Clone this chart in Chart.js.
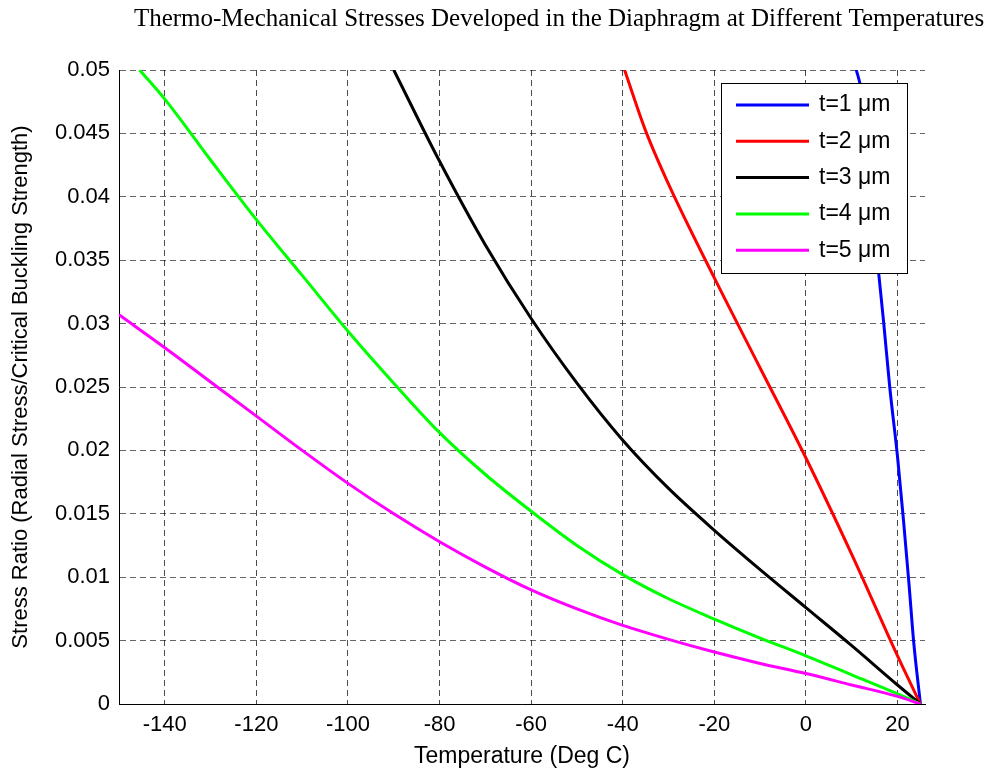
<!DOCTYPE html>
<html>
<head>
<meta charset="utf-8">
<script src="https://cdn.jsdelivr.net/npm/chart.js@4.4.1/dist/chart.umd.min.js"></script>
<style>
  body { margin: 0; background: #fff; }
</style>
</head>
<body>
<canvas id="chart-1" width="992" height="772"></canvas>
<script>
// temperatures (deg C) and stress ratio
var t1_temp = [11, 12, 14, 15.6, 17, 18.3, 20, 21.3, 22.5, 23.5, 25];
var t1_ratio = [0.05, 0.0485, 0.0412, 0.035, 0.030, 0.025, 0.0195, 0.0145, 0.0095, 0.005, 0];

var t2_temp = [-39.6, -35, -30, -20, -10, 0, 10, 20, 25];
var t2_ratio = [0.05, 0.0452, 0.0410, 0.0336, 0.0265, 0.0194, 0.0118, 0.0038, 0];

var t3_temp = [-90, -80, -70, -60, -50, -40, -30, -20, -10, 0, 10, 20, 25];
var t3_ratio = [0.05, 0.0428, 0.0362, 0.0304, 0.0253, 0.0208, 0.0170, 0.0137, 0.0106, 0.0076, 0.0046, 0.0015, 0];

var t4_temp = [-145.5, -140, -130, -120, -110, -100, -90, -80, -70, -60, -50, -40, -30, -20, -10, 0, 10, 20, 25];
var t4_ratio = [0.05, 0.0477, 0.0429, 0.0382, 0.0338, 0.0294, 0.0253, 0.0214, 0.0181, 0.0152, 0.0125, 0.0102, 0.0083, 0.0067, 0.0052, 0.0038, 0.0023, 0.0008, 0];

var t5_temp = [-150, -140, -130, -120, -110, -100, -90, -80, -70, -60, -50, -40, -30, -20, -10, 0, 10, 20, 25];
var t5_ratio = [0.0307, 0.0281, 0.0254, 0.0227, 0.0200, 0.0174, 0.0150, 0.0128, 0.0108, 0.0090, 0.0075, 0.0062, 0.0051, 0.0041, 0.0032, 0.0024, 0.0015, 0.0006, 0];

var labels = ["t=1 \u03bcm", "t=2 \u03bcm", "t=3 \u03bcm", "t=4 \u03bcm", "t=5 \u03bcm"];
var colors = ["#0000ff", "#ff0000", "#000000", "#00ff00", "#ff00ff"];
var x_ticks = [-140, -120, -100, -80, -60, -40, -20, 0, 20];
var y_ticks = [0, 0.005, 0.01, 0.015, 0.02, 0.025, 0.03, 0.035, 0.04, 0.045, 0.05];
var title_text = "Thermo-Mechanical Stresses Developed in the Diaphragm at Different Temperatures";

var temps = [t1_temp, t2_temp, t3_temp, t4_temp, t5_temp];
var ratios = [t1_ratio, t2_ratio, t3_ratio, t4_ratio, t5_ratio];

var datasets = [];
for (let i = 0; i < labels.length; i++) {
  let pts = [];
  for (let j = 0; j < temps[i].length; j++) {
    pts.push({ x: temps[i][j], y: ratios[i][j] });
  }
  datasets.push({
    label: labels[i],
    data: pts,
    borderColor: colors[i],
    backgroundColor: colors[i],
    borderWidth: 3,
    pointRadius: 0,
    cubicInterpolationMode: "monotone",
    order: labels.length - i,
  });
}

// figure title
const titlePlugin = {
  id: "figTitle",
  afterDraw(chart) {
    const ctx = chart.ctx;
    ctx.save();
    ctx.font = '25px "Liberation Serif", "Times New Roman", serif';
    ctx.fillStyle = "#000";
    ctx.textAlign = "center";
    ctx.textBaseline = "middle";
    ctx.fillText(title_text, 559, 19);
    ctx.restore();
  },
};

// boxed legend in the upper right corner
const boxLegend = {
  id: "boxLegend",
  afterDatasetsDraw(chart) {
    const ctx = chart.ctx;
    const x0 = 721, y0 = 83, w = 186, h = 190;
    ctx.save();
    ctx.fillStyle = "#fff";
    ctx.fillRect(x0, y0, w, h);
    ctx.strokeStyle = "#000";
    ctx.lineWidth = 1;
    ctx.strokeRect(x0 + 0.5, y0 + 0.5, w, h);
    ctx.font = '23px "Liberation Sans", Arial, sans-serif';
    ctx.textBaseline = "middle";
    ctx.textAlign = "left";
    chart.data.datasets.forEach(function (ds, i) {
      const y = y0 + 22 + i * 36.3;
      ctx.strokeStyle = ds.borderColor;
      ctx.lineWidth = 3;
      ctx.beginPath();
      ctx.moveTo(736, y);
      ctx.lineTo(809, y);
      ctx.stroke();
      ctx.fillStyle = "#000";
      ctx.fillText(ds.label, 819, y);
    });
    ctx.restore();
  },
};

const chart1 = document.getElementById("chart-1").getContext("2d");
const myChart1 = new Chart(chart1, {
  type: "line",
  data: { datasets: datasets },
  options: {
    responsive: false,
    animation: false,
    layout: { padding: { top: 70, right: 67, left: 0, bottom: 0 } },
    plugins: {
      legend: { display: false },
      tooltip: { enabled: false },
    },
    scales: {
      x: {
        type: "linear",
        min: -150,
        max: 26,
        afterBuildTicks: (s) => { s.ticks = x_ticks.map((v) => ({ value: v })); },
        afterFit: (s) => { s.height = 68; },
        ticks: {
          color: "#000",
          padding: 8,
          font: { family: '"Liberation Sans", Arial, sans-serif', size: 22 },
        },
        grid: {
          color: "rgba(0,0,0,0.7)",
          drawTicks: false,
        },
        border: { display: true, color: "#000", width: 1, dash: [6, 4] },
        title: {
          display: true,
          text: "Temperature (Deg C)",
          color: "#000",
          padding: { top: 0, bottom: 2 },
          font: { family: '"Liberation Sans", Arial, sans-serif', size: 23 },
        },
      },
      y: {
        min: 0,
        max: 0.05,
        afterBuildTicks: (s) => { s.ticks = y_ticks.map((v) => ({ value: v })); },
        afterFit: (s) => { s.width = 119; },
        ticks: {
          color: "#000",
          padding: 9,
          callback: (v) => String(+v.toFixed(3)),
          font: { family: '"Liberation Sans", Arial, sans-serif', size: 22 },
        },
        grid: {
          color: "rgba(0,0,0,0.6)",
          drawTicks: false,
        },
        border: { display: true, color: "#000", width: 1, dash: [6, 4] },
        title: {
          display: true,
          text: "Stress Ratio (Radial Stress/Critical Buckling Strength)",
          color: "#000",
          padding: { top: 8, bottom: 0 },
          font: { family: '"Liberation Sans", Arial, sans-serif', size: 22 },
        },
      },
    },
  },
  plugins: [titlePlugin, boxLegend],
});
</script>
</body>
</html>
